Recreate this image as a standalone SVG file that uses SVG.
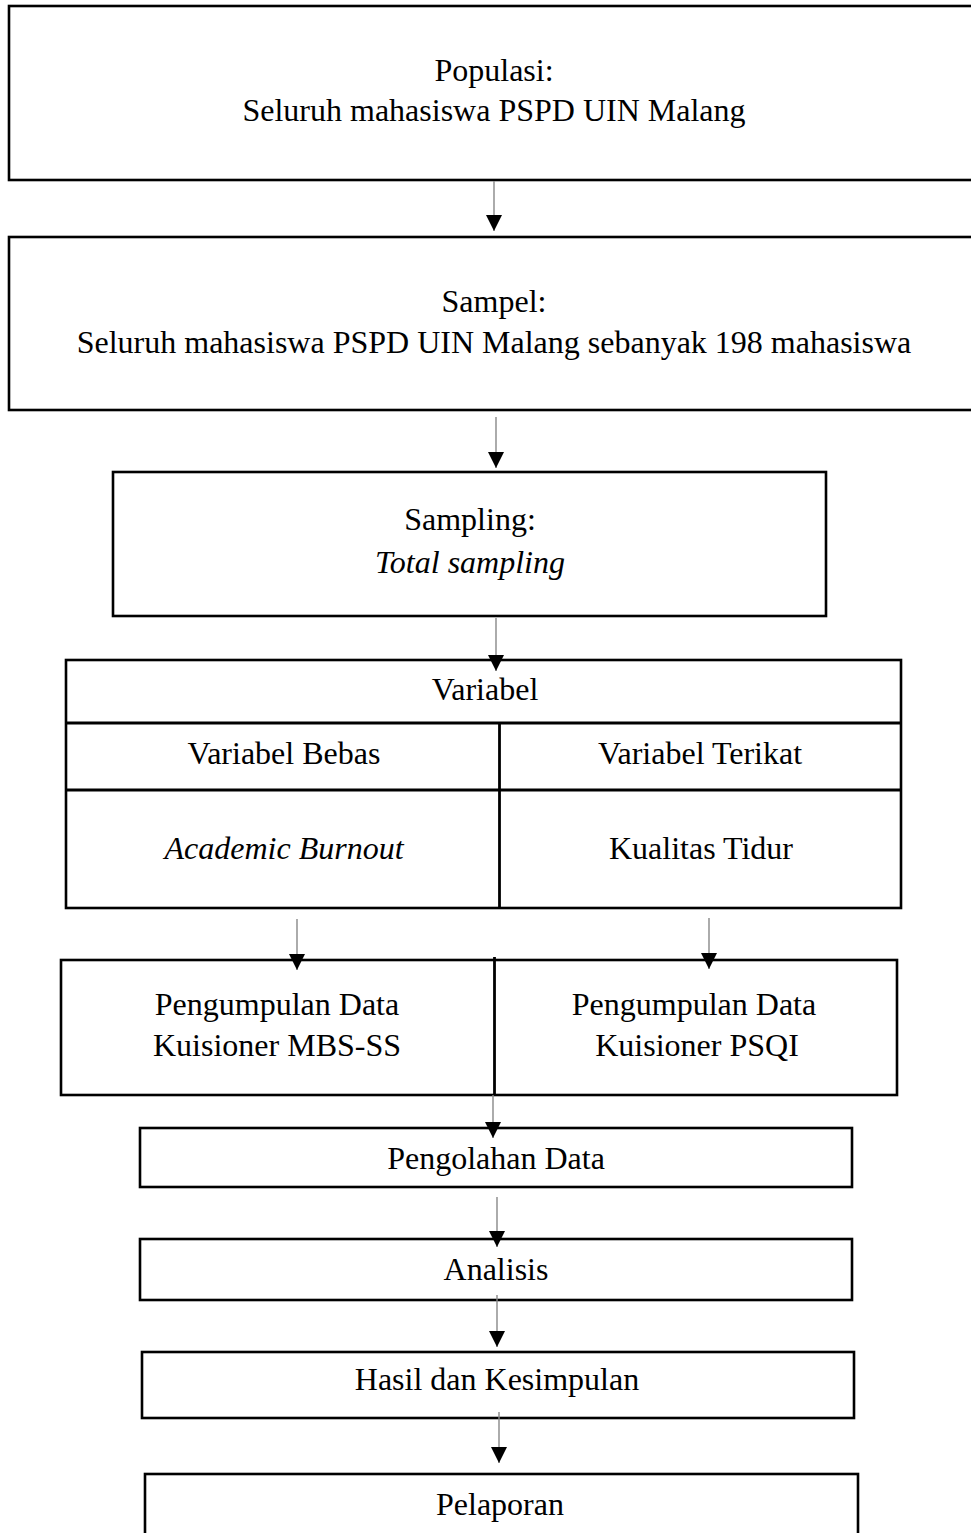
<svg xmlns="http://www.w3.org/2000/svg" width="971" height="1533" viewBox="0 0 971 1533">
<style>
.box{fill:#fff;stroke:#000;stroke-width:2.6}
.div{stroke:#000;stroke-width:2.8;fill:none}
.t{font-family:"Liberation Serif","Times New Roman",serif;font-size:32px;fill:#000;text-anchor:middle}
.i{font-style:italic}
.con{stroke:#888;stroke-width:1.4;fill:none;marker-end:url(#ah)}
</style>
<defs>
<marker id="ah" markerUnits="userSpaceOnUse" markerWidth="16" markerHeight="16" refX="16" refY="8" orient="auto">
<path d="M0,0 L16,8 L0,16 Z" fill="#000"/>
</marker>
</defs>
<rect width="971" height="1533" fill="#fff"/>
<g id="populasi">
<rect class="box" x="9" y="6" width="990" height="174"/>
<text class="t" x="494" y="81">Populasi:</text>
<text class="t" x="494" y="121">Seluruh mahasiswa PSPD UIN Malang</text>
</g>
<g id="sampel">
<rect class="box" x="9" y="237" width="990" height="173"/>
<text class="t" x="494" y="312">Sampel:</text>
<text class="t" x="494" y="353">Seluruh mahasiswa PSPD UIN Malang sebanyak 198 mahasiswa</text>
</g>
<g id="sampling">
<rect class="box" x="113" y="472" width="713" height="144"/>
<text class="t" x="470" y="530">Sampling:</text>
<text class="t i" x="470" y="573">Total sampling</text>
</g>
<g id="variabel">
<rect class="box" x="66" y="660" width="835" height="248" stroke-width="3"/>
<line class="div" x1="66" y1="723" x2="901" y2="723"/>
<line class="div" x1="66" y1="790" x2="901" y2="790"/>
<line class="div" x1="499.5" y1="723" x2="499.5" y2="908"/>
<text class="t" x="485" y="700">Variabel</text>
<text class="t" x="284" y="764">Variabel Bebas</text>
<text class="t" x="700" y="764">Variabel Terikat</text>
<text class="t i" x="284" y="859">Academic Burnout</text>
<text class="t" x="701" y="859">Kualitas Tidur</text>
</g>
<g id="pengumpulan">
<rect class="box" x="61" y="960" width="836" height="135"/>
<line class="div" x1="494.5" y1="957" x2="494.5" y2="1095"/>
<text class="t" x="277" y="1015">Pengumpulan Data</text>
<text class="t" x="277" y="1056">Kuisioner MBS-SS</text>
<text class="t" x="694" y="1015">Pengumpulan Data</text>
<text class="t" x="697" y="1056">Kuisioner PSQI</text>
</g>
<g id="pengolahan">
<rect class="box" x="140" y="1128" width="712" height="59"/>
<text class="t" x="496" y="1169">Pengolahan Data</text>
</g>
<g id="analisis">
<rect class="box" x="140" y="1239" width="712" height="61"/>
<text class="t" x="496" y="1280">Analisis</text>
</g>
<g id="hasil">
<rect class="box" x="142" y="1352" width="712" height="66"/>
<text class="t" x="497" y="1390">Hasil dan Kesimpulan</text>
</g>
<g id="pelaporan">
<rect class="box" x="145" y="1474" width="713" height="90"/>
<text class="t" x="500" y="1515">Pelaporan</text>
</g>
<g id="connectors">
<line class="con" x1="494" y1="181" x2="494" y2="231"/>
<line class="con" x1="496" y1="417" x2="496" y2="468"/>
<line class="con" x1="496" y1="618" x2="496" y2="671"/>
<line class="con" x1="297" y1="919" x2="297" y2="970"/>
<line class="con" x1="709" y1="918" x2="709" y2="969"/>
<line class="con" x1="493" y1="1095" x2="493" y2="1138"/>
<line class="con" x1="497" y1="1197" x2="497" y2="1247"/>
<line class="con" x1="497" y1="1295" x2="497" y2="1347"/>
<line class="con" x1="499" y1="1412" x2="499" y2="1463"/>
</g>
</svg>
